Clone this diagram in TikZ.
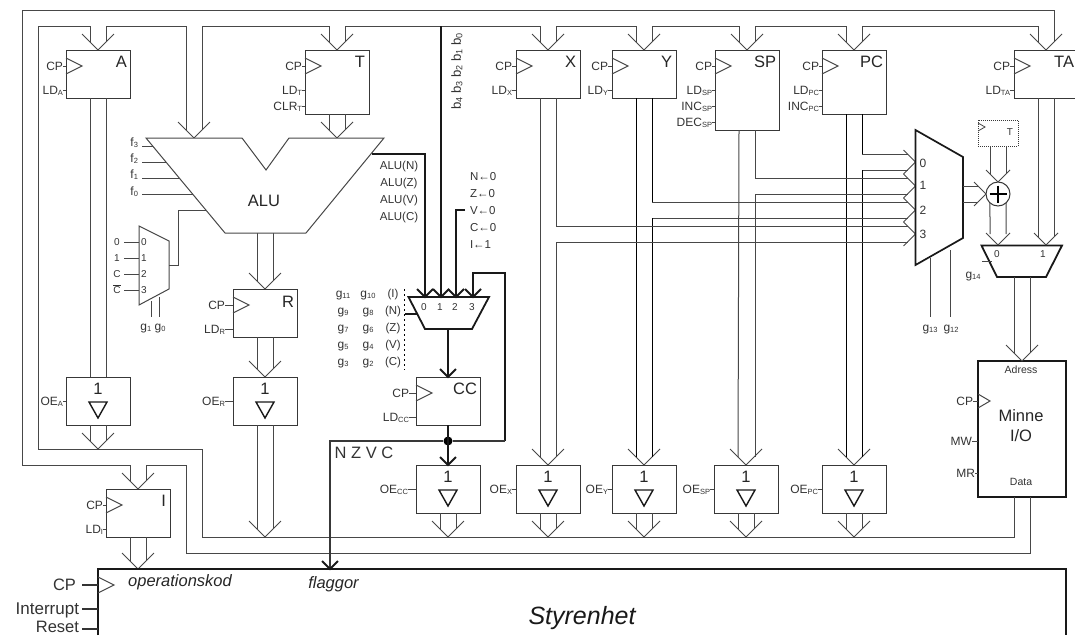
\documentclass[tikz,border=0pt]{standalone}
\usepackage{fontspec}
\setmainfont{Liberation Sans}
\newcommand{\fs}[1]{\fontsize{#1}{#1}\selectfont}
\newcommand{\Sb}[1]{\raisebox{-1.2pt}{\fs{7.5}#1}}
\newcommand{\Sbb}[1]{\raisebox{-1.6pt}{\fs{9}#1}}
\tikzset{
  wire/.style={line width=1pt,draw=black!72,line join=miter},
  bwire/.style={line width=1pt,draw=black},
  hvy/.style={line width=1.8pt,draw=black!90},
  box/.style={draw=black!78,line width=1pt,fill=white,inner sep=0pt,outer sep=0pt},
  lbl/.style={inner sep=0pt,outer sep=0pt,text=black!80,font=\fs{12},text height=8.6pt,text depth=0pt},
  reg/.style={inner sep=0pt,outer sep=0pt,text=black!85,font=\fs{16.5},text height=11.8pt,text depth=0pt},
  tiny/.style={inner sep=0pt,outer sep=0pt,text=black!80,font=\fs{10},text height=7.2pt,text depth=0pt},
  mid/.style={inner sep=0pt,outer sep=0pt,text=black!80,font=\fs{11.5},text height=8.3pt,text depth=0pt},
  mem/.style={inner sep=0pt,outer sep=0pt,text=black!85,font=\fs{16.5},text height=11.8pt,text depth=0pt}
}
\newcommand{\rbox}[5]{\node[box,minimum width=#4pt,minimum height=#5pt] (#1) at (#2,#3) {};}
\newcommand{\ctl}[5]{\node[lbl,anchor=east] (#1) at (#3,#4) {#5}; \draw[wire] (#1.east) -- (#1.east -| #2);}
\newcommand{\clk}[2]{\draw[wire] (#1,#2) ++(0,-8) -- ++(16,8) -- ++(-16,8);}
\newcommand{\tipd}[2][16]{\draw[wire] #2 ++(-#1,-#1) -- ++(#1,#1) -- ++(#1,-#1);}
\newcommand{\tipr}[1]{\draw[wire] #1 ++(-12,-12) -- ++(12,12) -- ++(-12,12);}
\newcommand{\tiph}[1]{\draw[hvy] #1 ++(-8,-8) -- ++(8,8) -- ++(8,-8);}
\newcommand{\tri}[1]{\draw[line width=1.4pt,draw=black!90,line join=miter] ([xshift=-9pt,yshift=-25pt]#1.north) -- ++(18,0) -- ++(-9,16) -- cycle;
  \node[mem,anchor=north] (#1-one) at ([yshift=-6pt]#1.north) {1};}
\begin{document}
\begin{tikzpicture}[x=1pt,y=-1pt]
\useasboundingbox (0,0) rectangle (1075,635);
% ---- boxes
\rbox{A}{98}{74}{64}{48}
\rbox{T}{337}{82}{64}{64}
\rbox{X}{548}{74}{64}{48}
\rbox{Y}{644}{74}{64}{48}
\rbox{SP}{747}{90}{64}{80}
\rbox{PC}{854}{82}{64}{64}
\rbox{TA}{1046}{74}{64}{48}
\rbox{R}{265}{313}{64}{48}
\rbox{OEA}{98}{401}{64}{48}
\rbox{OER}{265}{401}{64}{48}
\rbox{I}{138}{513}{64}{48}
\rbox{CC}{448}{401}{64}{48}
\rbox{OECC}{448}{489}{64}{48}
\rbox{OEX}{548}{489}{64}{48}
\rbox{OEY}{644}{489}{64}{48}
\rbox{OESP}{746}{489}{64}{48}
\rbox{OEPC}{854}{489}{64}{48}
\node[box,line width=1.6pt,draw=black!90,minimum width=88pt,minimum height=136pt] (MEM) at (1022,429) {};
% ---- bus end points
\coordinate (tA) at (98,449);
\coordinate (tR) at (265,537);
\coordinate (tCC) at (448,537);
\coordinate (tX) at (548,537);
\coordinate (tY) at (644,537);
\coordinate (tSP) at (746,537);
\coordinate (tPC) at (854,537);
\coordinate (tALUa) at (194,138);
\coordinate (tALUb) at (337,138);
\coordinate (m0) at (915.5,162);
\coordinate (m1) at (915.5,186);
\coordinate (m2) at (915.5,210);
\coordinate (m3) at (915.5,234);
\coordinate (tS0) at (998,245);
\coordinate (tS1) at (1046,245);
\coordinate (cuOp) at (138,569);
\coordinate (cuFl) at (330,569);
% ---- rails
\draw[wire] ([xshift=8pt,yshift=8pt]TA.north) |- (22,10) -- (22,465) -| ([xshift=-8pt,yshift=8pt]I.north);
\draw[wire] ([xshift=-8pt,yshift=8pt]A.north) |- (38,26) -- (38,449) -| (202,537) -| ([xshift=-8pt]MEM.south);
\draw[wire] ([xshift=8pt,yshift=8pt]I.north) |- (186,465) -- (186,553) -| ([xshift=8pt]MEM.south);
\draw[wire] ([xshift=8pt,yshift=8pt]A.north) |- (186,26) -- ([xshift=-8pt,yshift=8pt]tALUa);
\draw[wire] ([xshift=8pt,yshift=8pt]tALUa) |- (329,26) -- ([xshift=-8pt,yshift=8pt]T.north);
\draw[wire] ([xshift=8pt,yshift=8pt]T.north) |- (540,26) -- ([xshift=-8pt,yshift=8pt]X.north);
\draw[wire] ([xshift=8pt,yshift=8pt]X.north) |- (636,26) -- ([xshift=-8pt,yshift=8pt]Y.north);
\draw[wire] ([xshift=8pt,yshift=8pt]Y.north) |- (739,26) -- ([xshift=-8pt,yshift=8pt]SP.north);
\draw[wire] ([xshift=8pt,yshift=8pt]SP.north) |- (846,26) -- ([xshift=-8pt,yshift=8pt]PC.north);
\draw[wire] ([xshift=8pt,yshift=8pt]PC.north) |- (1038,26) -- ([xshift=-8pt,yshift=8pt]TA.north);
% ---- V arrowheads at registers
\foreach \n in {A,T,X,Y,SP,PC,TA,R,OER,OEX,OEY,OESP,OEPC,I} {\tipd{(\n.north)}}
\foreach \n in {tA,tR,tCC,tX,tY,tSP,tPC,tALUa,tALUb,cuOp} {\tipd{(\n)}}
\tipd{(MEM.north)}
% ---- vertical busses
\draw[wire] ([xshift=-8pt]A.south) -- ([xshift=-8pt]OEA.north);
\draw[wire] ([xshift=8pt]A.south) -- ([xshift=8pt]OEA.north);
\draw[wire] ([xshift=-8pt]OEA.south) -- ([xshift=-8pt,yshift=8pt]tA);
\draw[wire] ([xshift=8pt]OEA.south) -- ([xshift=8pt,yshift=8pt]tA);
\draw[wire] ([xshift=-8pt]T.south) -- ([xshift=-8pt,yshift=8pt]tALUb);
\draw[wire] ([xshift=8pt]T.south) -- ([xshift=8pt,yshift=8pt]tALUb);
\draw[wire] (257,233) -- ([xshift=-8pt,yshift=8pt]R.north);
\draw[wire] (273,233) -- ([xshift=8pt,yshift=8pt]R.north);
\draw[wire] ([xshift=-8pt]R.south) -- ([xshift=-8pt,yshift=8pt]OER.north);
\draw[wire] ([xshift=8pt]R.south) -- ([xshift=8pt,yshift=8pt]OER.north);
\draw[wire] ([xshift=-8pt]OER.south) -- ([xshift=-8pt,yshift=8pt]tR);
\draw[wire] ([xshift=8pt]OER.south) -- ([xshift=8pt,yshift=8pt]tR);
\draw[wire] ([xshift=-8pt]I.south) -- ([xshift=-8pt,yshift=8pt]cuOp);
\draw[wire] ([xshift=8pt]I.south) -- ([xshift=8pt,yshift=8pt]cuOp);
\foreach \n/\t in {OECC/tCC,OEX/tX,OEY/tY,OESP/tSP,OEPC/tPC} {
  \draw[wire] ([xshift=-8pt]\n.south) -- ([xshift=-8pt,yshift=8pt]\t);
  \draw[wire] ([xshift=8pt]\n.south) -- ([xshift=8pt,yshift=8pt]\t);
}
% register busses to the output buffers and the address multiplexer
\draw[wire] ([xshift=-8pt]X.south) -- ([xshift=-8pt,yshift=8pt]OEX.north);
\draw[bwire] ([xshift=-8pt]Y.south) -- ([xshift=-8pt,yshift=8pt]OEY.north);
\draw[wire] ([xshift=-8pt]SP.south) -- ([xshift=-8pt,yshift=8pt]OESP.north);
\draw[bwire] ([xshift=-8pt]PC.south) -- ([xshift=-8pt,yshift=8pt]OEPC.north);
\draw[bwire] ([xshift=8pt]PC.south) -- (862,154);
\draw[wire] (862,154) -- ([xshift=-8pt,yshift=8pt]m0);
\draw[wire] ([xshift=-8pt,yshift=-8pt]m0) -- (862,170);
\draw[bwire] (862,170) -- ([xshift=8pt,yshift=8pt]OEPC.north);
\draw[wire] ([xshift=8pt]SP.south) |- ([xshift=-8pt,yshift=8pt]m1);
\draw[wire] ([xshift=-8pt,yshift=-8pt]m1) -| (755,457);
\draw[bwire] ([xshift=8pt]Y.south) -- (652,202);
\draw[wire] (652,202) -- ([xshift=-8pt,yshift=8pt]m2);
\draw[wire] ([xshift=-8pt,yshift=-8pt]m2) -- (652,218);
\draw[bwire] (652,218) -- ([xshift=8pt,yshift=8pt]OEY.north);
\draw[wire] ([xshift=8pt]X.south) |- ([xshift=-8pt,yshift=8pt]m3);
\draw[wire] ([xshift=-8pt,yshift=-8pt]m3) -| ([xshift=8pt,yshift=8pt]OEX.north);
\foreach \n in {m0,m1,m2,m3} {\tipr{(\n)}}
% ---- ALU
\draw[wire,fill=white] (146,138) -- (242,138) -- (266,170) -- (289,138) -- (384,138) -- (306,233) -- (225,233) -- cycle;
\node[reg] (ALU) at (264,201) {ALU};
\foreach \y/\ly/\t/\e [count=\i] in {146/142/3/152.6,162/158/2/166,178/174/1/179,194/191/0/192.6} {
  \node[lbl,anchor=east] (f\i) at (138,\ly) {f\Sb{\t}};
  \coordinate (fa\i) at (142,\y);
  \coordinate (fb\i) at (\e,\y);
  \draw[wire] (fa\i) -- (fb\i);
}
\foreach \y/\t [count=\i] in {165/N,182/Z,199/V,216/C} {\node[mid] (aluf\i) at (399,\y) {ALU(\t)};}
% small carry multiplexer
\draw[wire,fill=white] (139,226) -- (169,241) -- (169,289) -- (139,305) -- cycle;
\foreach \y/\a/\b [count=\i] in {242/0/0,258/1/1,274/C/2,290/{$\overline{\hbox{\fs{10}C}}$}/3} {
  \node[tiny] (cin\i) at (117,\y) {\a};
  \node[tiny] (cdg\i) at (144,\y) {\b};
  \draw[wire] (124,\y) -- (139,\y);
}
\coordinate (cmOut) at (169,265);
\coordinate (aluCin) at (206,210);
\draw[wire] (cmOut) -- (178,265) |- (aluCin);
\draw[wire] (151,301) -- (151,317);
\draw[wire] (159,297) -- (159,317);
\node[lbl] (g1g0) at (153,326) {g\Sb{1} g\Sb{0}};
% ---- flag multiplexer
\draw[hvy,fill=white] (408.5,297) -- (489,297) -- (472,329) -- (425,329) -- cycle;
\foreach \x/\t [count=\i] in {424/0,440/1,455/2,472/3} {
  \node[tiny] (gd\i) at (\x,307) {\t};
  \coordinate (gt\i) at (\x+1,297);
}
\draw[hvy] (372,154) -| (gt1);
\draw[hvy] (441,26) -- (gt2);
\draw[hvy] (465,210) -| (gt3);
\draw[hvy] (gt4) -- (473,273) -- (505,273) -- (505,441);
\foreach \i in {1,2,3,4} {\tiph{(gt\i)}}
\draw[hvy] (448,329) -- (CC.north);
\tiph{(CC.north)}
\node[circle,fill=black,inner sep=0pt,minimum size=9pt] (J) at (448,441) {};
\draw[hvy] (CC.south) -- (OECC.north);
\tiph{(OECC.north)}
\draw[line width=1.4pt,draw=black!78] (505,441) -- (J) -- (330,441) -- (cuFl);
\tiph{(cuFl)}
\node[lbl,font=\fs{16.5},text height=11.8pt] (nzvc) at (364,453) {N Z V C};
\draw[line width=1.8pt,dash pattern=on 2pt off 3pt] (404.5,289) -- (404.5,370);
\draw[hvy] (405,314) -- (418,314);
\foreach \y/\a/\b/\c [count=\i] in {293/11/10/I,310/9/8/N,327/7/6/Z,344/5/4/V,361/3/2/C} {
  \node[lbl] (gl\i) at (343,\y) {g\Sb{\a}};
  \node[lbl] (gm\i) at (368,\y) {g\Sb{\b}};
  \node[mid] (gn\i) at (393,\y) {(\c)};
}
\foreach \y/\t [count=\i] in {176/N←0,193/Z←0,210/V←0,227/C←0,244/I←1} {
  \node[mid,anchor=west] (fl\i) at (470,\y) {\t};
}
\node[lbl,rotate=90,font=\fs{13.2},text height=9.5pt] (bbits) at (456,71.5) {b\Sbb{4} b\Sbb{3} b\Sbb{2} b\Sbb{1} b\Sbb{0}};
% ---- main address multiplexer
\draw[line width=1.7pt,draw=black!90,fill=white] (915.5,130) -- (963,157) -- (963,238) -- (915.5,265) -- cycle;
\foreach \y/\t [count=\i] in {163/0,185/1,210/2,234/3} {\node[lbl] (md\i) at (923,\y) {\t};}
\draw[wire] (930,258) -- (930,317);
\draw[wire] (950,250) -- (950,317);
\node[lbl] (g13) at (930,327) {g\Sb{13}};
\node[lbl] (g12) at (951,327) {g\Sb{12}};
% adder
\node[draw=black!78,line width=1pt,circle,minimum size=24pt,inner sep=0pt,outer sep=0pt] (ADD) at (998,194) {};
\draw[line width=2pt,draw=black] (989.5,194) -- (1006.5,194) (998,185.5) -- (998,202.5);
\draw[wire] (963,186) -- (978,186);
\draw[wire] (963,202) -- (978,202);
\draw[wire] (974,182) -- (986,194) -- (974,206);
% dotted T
\node[draw=black!78,line width=1pt,densely dotted,minimum width=40pt,minimum height=26pt,inner sep=0pt,outer sep=0pt] (Ts) at (998,133) {};
\draw[wire,line width=.8pt] (978,123) -- (985,127) -- (978,131);
\node[tiny] (Tsl) at (1010,132) {T};
\draw[wire] ([xshift=-8pt]Ts.south) -- (990,174);
\draw[wire] ([xshift=8pt]Ts.south) -- (1006,174);
\tipd[12]{(ADD.north)}
% mux g14
\draw[wire] (ADD.228) -- (990,234);
\draw[wire] (ADD.312) -- (1006,234);
\draw[wire] ([xshift=-8pt]TA.south) -- (1038,237);
\draw[wire] ([xshift=8pt]TA.south) -- (1054,237);
\draw[hvy,fill=white] (981.5,245.5) -- (1062,245.5) -- (1046,277) -- (997,277) -- cycle;
\tipd[12]{(tS0)}
\tipd[12]{(tS1)}
\node[tiny] (s0) at (997,254) {0};
\node[tiny] (s1) at (1043,254) {1};
\draw[wire] (982,261) -- (992,261);
\node[lbl] (g14) at (973,274) {g\Sb{14}};
\draw[wire] (1014,277) -- ([xshift=-8pt,yshift=8pt]MEM.north);
\draw[wire] (1030,277) -- ([xshift=8pt,yshift=8pt]MEM.north);
% ---- control unit
\draw[line width=1.7pt,draw=black!90] (98,635) -- (98,569) -- (1066,569) -- (1066,635);
\node[inner sep=0pt,text=black!85,font=\fs{16.5}\itshape] (opk) at (180,582) {operationskod};
\node[inner sep=0pt,text=black!85,font=\fs{16.5}\itshape] (flg) at (333.5,584) {flaggor};
\node[inner sep=0pt,text=black!90,font=\fs{25}\itshape] (sty) at (582,618) {Styrenhet};
\clk{98}{585}
\node[lbl,anchor=east,font=\fs{16.5},text height=11.8pt] (cCP) at (76,585) {CP};
\node[lbl,anchor=east,font=\fs{17},text height=12pt] (cInt) at (79,608) {Interrupt};
\node[lbl,anchor=east,font=\fs{16.5},text height=11.8pt] (cRes) at (79,627) {Reset};
\draw[line width=1.5pt,draw=black!80] (82,585) -- (98,585) (82,609) -- (98,609) (82,629) -- (98,629);
% ---- clock triangles and controls
\foreach \n/\x in {A/66,T/305,X/516,Y/612,SP/715,PC/822,TA/1014} {\clk{\x}{66}}
\clk{233}{305}
\clk{106}{505}
\clk{416}{393}
\draw[wire] (978,394) -- (990,401) -- (978,408);
\ctl{cpA}{A.west}{63}{66}{CP}
\ctl{ldA}{A.west}{63}{90}{LD\Sb{A}}
\ctl{cpT}{T.west}{302}{66}{CP}
\ctl{ldT}{T.west}{302}{90}{LD\Sb{T}}
\ctl{clT}{T.west}{302}{106}{CLR\Sb{T}}
\ctl{cpX}{X.west}{512}{66}{CP}
\ctl{ldX}{X.west}{512}{90}{LD\Sb{X}}
\ctl{cpY}{Y.west}{608}{66}{CP}
\ctl{ldY}{Y.west}{608}{90}{LD\Sb{Y}}
\ctl{cpS}{SP.west}{712}{66}{CP}
\ctl{ldS}{SP.west}{712}{90}{LD\Sb{SP}}
\ctl{inS}{SP.west}{712}{106}{INC\Sb{SP}}
\ctl{deS}{SP.west}{712}{122}{DEC\Sb{SP}}
\ctl{cpP}{PC.west}{819}{66}{CP}
\ctl{ldP}{PC.west}{819}{90}{LD\Sb{PC}}
\ctl{inP}{PC.west}{819}{106}{INC\Sb{PC}}
\ctl{cpTA}{TA.west}{1010}{66}{CP}
\ctl{ldTA}{TA.west}{1010}{90}{LD\Sb{TA}}
\ctl{cpR}{R.west}{225}{305}{CP}
\ctl{ldR}{R.west}{225}{329}{LD\Sb{R}}
\ctl{oeA}{OEA.west}{63}{401}{OE\Sb{A}}
\ctl{oeR}{OER.west}{225}{401}{OE\Sb{R}}
\ctl{cpI}{I.west}{103}{505}{CP}
\ctl{ldI}{I.west}{103}{529}{LD\Sb{I}}
\ctl{cpC}{CC.west}{409}{393}{CP}
\ctl{ldC}{CC.west}{409}{417}{LD\Sb{CC}}
\ctl{oeC}{OECC.west}{408}{489}{OE\Sb{CC}}
\ctl{oeX}{OEX.west}{512}{489}{OE\Sb{X}}
\ctl{oeY}{OEY.west}{608}{489}{OE\Sb{Y}}
\ctl{oeS}{OESP.west}{710}{489}{OE\Sb{SP}}
\ctl{oeP}{OEPC.west}{818}{489}{OE\Sb{PC}}
\ctl{cpM}{MEM.west}{973}{401}{CP}
\ctl{mwM}{MEM.west}{972}{441}{MW}
\ctl{mrM}{MEM.west}{975}{473}{MR}
% ---- register names
\foreach \n/\x/\y/\t in {A/127/62/A,T/365/62/T,X/576/62/X,Y/672/62/Y,SP/776/62/SP,PC/883/62/PC,TA/1074/62/TA,R/294/302/R,CC/477/389/CC,I/166/501/I} {
  \node[reg,anchor=east] (name\n) at (\x,\y) {\t};
}
\foreach \n in {OEA,OER,OECC,OEX,OEY,OESP,OEPC} {\tri{\n}}
\node[tiny,font=\fs{10.5}] (ad) at (1021,370) {Adress};
\node[tiny,font=\fs{10.5}] (da) at (1021,482) {Data};
\node[mem] (min) at (1021,416) {Minne};
\node[mem] (io) at (1021,436) {I/O};
\end{tikzpicture}
\end{document}
